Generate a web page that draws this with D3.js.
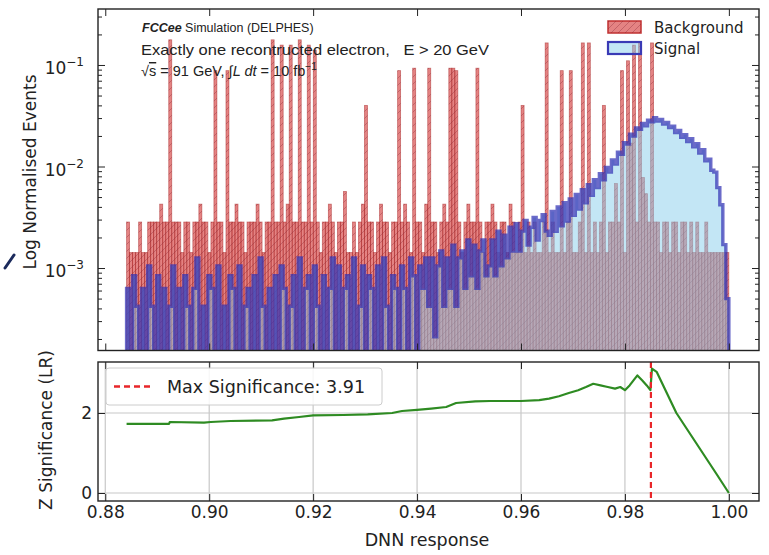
<!DOCTYPE html>
<html><head><meta charset="utf-8">
<script src="https://cdn.jsdelivr.net/npm/d3@7"></script>
<style>body{margin:0;background:#fff}svg{display:block}</style>
</head><body>
<svg id="c" width="769" height="555"></svg>
<script>
// ---------------- data ----------------
const binLo = 0.8841, binHi = 1.0, nBins = 200;
const background = [
.00284,.00142,.00142,.00142,.00284,.00142,.00142,.00284,.00284,.00284,
.00284,.00426,.00284,.00284,.177,.00284,.00284,.00284,.00142,.00284,
.00284,.00142,.00284,.00284,.00426,.00284,.00284,.00142,.00284,.088,
.00284,.00284,.00142,.088,.00284,.00284,.00426,.00284,.00284,.00142,
.00284,.00284,.00284,.00426,.00284,.00142,.00284,.00284,.177,.00284,
.00284,.157,.00284,.00426,.157,.00284,.00284,.177,.00284,.00284,
.157,.00284,.14,.00284,.00142,.00284,.00284,.00426,.00284,.00142,
.00284,.00284,.00568,.00142,.00142,.00284,.00142,.00284,.00426,.04,
.00284,.00284,.00142,.00284,.00426,.00284,.00284,.00142,.00284,.00284,
.088,.00284,.00426,.00284,.00142,.093,.00284,.00284,.00142,.00426,
.093,.00284,.00284,.00142,.00284,.00426,.00284,.093,.093,.088,
.00284,.00142,.00284,.00426,.00284,.00284,.093,.00284,.00142,.00284,
.00284,.00426,.00284,.00142,.00284,.00284,.00142,.00426,.00284,.00142,
.00284,.04,.00142,.00284,.00142,.00284,.00142,.00142,.00284,.165,
.00142,.00284,.00142,.00142,.088,.00142,.00284,.088,.00142,.00142,
.00284,.165,.00142,.165,.00142,.00284,.00142,.00284,.04,.00142,
.00284,.00284,.0068,.00284,.088,.00142,.11,.017,.157,.00284,
.165,.0078,.0054,.00284,.165,.00284,.00284,.00142,.00284,.00284,
.00142,.00284,.00284,.00142,.00284,.00284,.00142,.00284,.00142,.00284,
.00142,.00142,.00284,.00142,.00142,.00142,.00142,.00142,.00142,.00142
];
const signal = [
.00063,0,.00084,.00042,0,.00063,0,.00105,.00042,0,
.00084,0,.00063,0,.00042,.00105,0,.00063,0,.00084,
.00042,0,.00063,.00126,0,.00042,0,.00084,.00063,0,
.00105,0,.00042,0,.00084,.00063,0,.00105,0,.00042,
.00063,0,.00084,0,.00126,.00042,0,.00063,0,.00084,
0,.00105,.00063,0,.00042,.00084,0,.00126,0,.00063,
.00084,0,.00105,.00042,0,.00084,0,.00063,.00126,0,
.00105,0,.00063,.00084,0,.00126,0,.00042,.00105,0,
.00084,.00063,0,.00105,0,.00126,.00042,0,.00084,.00063,
0,.00105,.00063,0,.00126,.00084,0,.00105,.00063,.00126,
.00042,.00126,.00021,.00105,.00147,.00042,.00126,.00063,.00168,.00042,
.00126,.00147,.00063,.00189,.00084,.00168,.00063,.00147,.00189,.00084,
.00105,.00189,.00084,.00231,.00105,.0021,.00126,.00252,.00147,.00273,
.00147,.00231,.00294,.00168,.00252,.00315,.00189,.00294,.00336,.00231,
.0021,.0036,.0023,.0040,.0026,.0044,.0029,.0048,.0033,.0053,
.0038,.0059,.0044,.0066,.0052,.0074,.0062,.0085,.0074,.0098,
.0088,.0116,.0106,.0138,.0132,.0172,.0166,.0208,.0200,.0240,
.0232,.0266,.0252,.0286,.0276,.0302,.0280,.0290,.0262,.0272,
.0242,.0250,.0216,.0226,.0194,.0206,.0176,.0188,.0156,.0168,
.0136,.0146,.0114,.0118,.0092,.0088,.0062,.0042,.0017,.0005
];
const zX = [0.8841,0.8923,0.8924,0.8990,0.9003,0.9041,0.9121,0.9144,0.9173,0.9200,0.9258,0.9305,0.9352,0.9371,0.9400,0.9427,0.9456,0.9475,0.9512,0.9541,0.9600,0.9635,0.9654,0.9673,0.9692,0.9710,0.9725,0.9739,0.9753,0.9767,0.9781,0.9791,0.9800,0.9809,0.9824,0.9833,0.9842,0.9849,0.9852,0.9861,0.9899,0.9937,0.9975,1.0000];
const zY = [1.73,1.73,1.775,1.76,1.775,1.80,1.817,1.86,1.90,1.94,1.95,1.967,2.0,2.05,2.08,2.11,2.15,2.25,2.29,2.30,2.30,2.32,2.36,2.42,2.50,2.57,2.65,2.73,2.69,2.65,2.61,2.65,2.57,2.69,2.94,2.82,2.69,2.57,3.11,3.03,2.0,1.25,0.5,0.0];
const maxSigX = 0.985;
const maxSigLabel = "Max Significance: 3.91";
const xTicks = [0.88,0.90,0.92,0.94,0.96,0.98,1.00];
const xTickLabels = ["0.88","0.90","0.92","0.94","0.96","0.98","1.00"];
const logMajor = [1e-3,1e-2,1e-1];
const logMajorExp = ["\u22123","\u22122","\u22121"];
const logMinor = [2e-4,3e-4,4e-4,5e-4,6e-4,7e-4,8e-4,9e-4,2e-3,3e-3,4e-3,5e-3,6e-3,7e-3,8e-3,9e-3,2e-2,3e-2,4e-2,5e-2,6e-2,7e-2,8e-2,9e-2,2e-1,3e-1];
const zTicks = [0,2];
const legendLabels = ["Background","Signal"];

// ---------------- layout ----------------
const svg = d3.select("#c");
const L = 98, R = 759, T1 = 9, B1 = 350.5, T2 = 362, B2 = 501;
const x = d3.scaleLinear().domain([0.8786, 1.0058]).range([L, R]);
const y1 = d3.scaleLog().domain([1.54e-4, 0.356]).range([B1, T1]);
const y2 = d3.scaleLinear().domain([-0.2, 3.275]).range([B2, T2]);
const edges = d3.range(nBins + 1).map(i => binLo + i * (binHi - binLo) / nBins);
const FONT = "DejaVu Sans, sans-serif";

const defs = svg.append("defs");
defs.append("clipPath").attr("id","clipTop").append("rect").attr("x",L).attr("y",T1).attr("width",R-L).attr("height",B1-T1);
defs.append("clipPath").attr("id","clipBot").append("rect").attr("x",L).attr("y",T2).attr("width",R-L).attr("height",B2-T2);
const pat = defs.append("pattern").attr("id","hatch").attr("patternUnits","userSpaceOnUse").attr("width",7).attr("height",7);
pat.append("path").attr("d","M-1,1 l2,-2 M0,7 l7,-7 M6,8 l2,-2").attr("stroke","#7a1a2a").attr("stroke-opacity",0.35).attr("stroke-width",0.9);

// ---------------- top panel ----------------
const gTop = svg.append("g").attr("clip-path","url(#clipTop)");
const yv = v => v > 0 ? y1(v) : B1 + 10;
gTop.selectAll("rect.bg").data(background).join("rect").attr("class","bg")
  .attr("x",(d,i)=>x(edges[i])).attr("width",(d,i)=>x(edges[i+1])-x(edges[i]))
  .attr("y",d=>yv(d)).attr("height",d=>Math.max(0,B1+2-yv(d)))
  .attr("fill","#d02a2a").attr("fill-opacity",0.58)
  .attr("stroke","#a01818").attr("stroke-opacity",0.5).attr("stroke-width",0.8);
gTop.selectAll("rect.hatch").data(background).join("rect").attr("class","hatch")
  .attr("x",(d,i)=>x(edges[i])).attr("width",(d,i)=>x(edges[i+1])-x(edges[i]))
  .attr("y",d=>yv(d)).attr("height",d=>Math.max(0,B1+2-yv(d)))
  .attr("fill","url(#hatch)");

const sigPts = signal.map((v,i)=>[edges[i], v]).concat([[edges[nBins], signal[nBins-1]]]);
gTop.append("path").datum(sigPts)
  .attr("d", d3.area().curve(d3.curveStepAfter).x(d=>x(d[0])).y0(B1+10).y1(d=>yv(d[1])))
  .attr("fill","#87ceeb").attr("fill-opacity",0.5);
const outPts = [[edges[0], 0]].concat(sigPts).concat([[edges[nBins], 0]]);
gTop.append("path").datum(outPts)
  .attr("d", d3.line().curve(d3.curveStepAfter).x(d=>x(d[0])).y(d=>yv(d[1])))
  .attr("fill","none").attr("stroke","#3232b4").attr("stroke-opacity",0.72).attr("stroke-width",3.4).attr("stroke-linejoin","miter");

// top axes
function styleAxis(g){ g.select(".domain").remove(); g.selectAll("line").attr("stroke","#222").attr("stroke-width",1); g.selectAll("text").attr("font-family",FONT).attr("font-size",17).attr("fill","#222"); }
svg.append("g").attr("transform",`translate(0,${B1})`).call(d3.axisBottom(x).tickValues(xTicks).tickSize(-7).tickSizeOuter(0).tickFormat("")).call(styleAxis);
svg.append("g").attr("transform",`translate(0,${T1})`).call(d3.axisTop(x).tickValues(xTicks).tickSize(-7).tickSizeOuter(0).tickFormat("")).call(styleAxis);
svg.append("g").attr("transform",`translate(${L},0)`).call(d3.axisLeft(y1).tickValues(logMajor).tickSize(-7).tickSizeOuter(0).tickFormat("")).call(styleAxis);
svg.append("g").attr("transform",`translate(${L},0)`).call(d3.axisLeft(y1).tickValues(logMinor).tickSize(-4).tickSizeOuter(0).tickFormat("")).call(styleAxis);
svg.append("g").attr("transform",`translate(${R},0)`).call(d3.axisRight(y1).tickValues(logMajor).tickSize(-7).tickSizeOuter(0).tickFormat("")).call(styleAxis);
svg.append("g").attr("transform",`translate(${R},0)`).call(d3.axisRight(y1).tickValues(logMinor).tickSize(-4).tickSizeOuter(0).tickFormat("")).call(styleAxis);
logMajor.forEach((v,i)=>{
  const t = svg.append("text").attr("x",84).attr("y",y1(v)+9).attr("text-anchor","end")
    .attr("font-family",FONT).attr("font-size",17).attr("fill","#222");
  t.append("tspan").text("10");
  t.append("tspan").attr("font-size",12).attr("dy",-8).text(logMajorExp[i]);
});
svg.append("rect").attr("x",L).attr("y",T1).attr("width",R-L).attr("height",B1-T1).attr("fill","none").attr("stroke","#222").attr("stroke-width",1.4);

// annotations
const ann = svg.append("g").attr("font-family","Liberation Sans, Arial, sans-serif").attr("fill","#222");
const a1 = ann.append("text").attr("x",142).attr("y",32).attr("font-size",12.5);
a1.append("tspan").attr("font-weight","bold").attr("font-style","italic").text("FCCee");
a1.append("tspan").text(" Simulation (DELPHES)");
ann.append("text").attr("x",141).attr("y",55).attr("font-size",14.5).attr("textLength",348).attr("lengthAdjust","spacingAndGlyphs")
  .text("Exactly one recontructed electron,\u00a0\u00a0 E > 20 GeV");
const a3 = ann.append("text").attr("x",141).attr("y",76).attr("font-size",14.5);
a3.append("tspan").text("\u221a");
a3.append("tspan").attr("text-decoration","overline").text("s");
a3.append("tspan").text(" = 91 GeV, \u222b");
a3.append("tspan").attr("font-style","italic").text("L dt");
a3.append("tspan").text(" = 10 fb");
a3.append("tspan").attr("font-size",10).attr("dy",-6).text("\u22121");

// top legend
const lg = svg.append("g");
lg.append("rect").attr("x",608).attr("y",21).attr("width",33).attr("height",12).attr("fill","#d02a2a").attr("fill-opacity",0.58).attr("stroke","#c03030").attr("stroke-width",1.5);
lg.append("rect").attr("x",608).attr("y",21).attr("width",33).attr("height",12).attr("fill","url(#hatch)");
lg.append("rect").attr("x",608).attr("y",42).attr("width",33).attr("height",12).attr("fill","#87ceeb").attr("fill-opacity",0.5).attr("stroke","#3a3ab5").attr("stroke-width",2.2);
lg.selectAll("text").data(legendLabels).join("text").attr("x",654).attr("y",(d,i)=>33+i*21)
  .attr("font-family",FONT).attr("font-size",15).attr("fill","#222").text(d=>d);

// ---------------- bottom panel ----------------
const grid = svg.append("g").attr("stroke","#c8c8c8").attr("stroke-width",1.2);
grid.selectAll("line.v").data(xTicks).join("line").attr("x1",d=>x(d)).attr("x2",d=>x(d)).attr("y1",T2).attr("y2",B2);
grid.selectAll("line.h").data(zTicks).join("line").attr("x1",L).attr("x2",R).attr("y1",d=>y2(d)).attr("y2",d=>y2(d));

const gBot = svg.append("g").attr("clip-path","url(#clipBot)");
gBot.append("path").datum(d3.zip(zX,zY))
  .attr("d", d3.line().x(d=>x(d[0])).y(d=>y2(d[1])))
  .attr("fill","none").attr("stroke","#2e8b22").attr("stroke-width",2.2).attr("stroke-linejoin","round");
gBot.append("line").attr("x1",x(maxSigX)).attr("x2",x(maxSigX)).attr("y1",T2).attr("y2",B2)
  .attr("stroke","#e8262a").attr("stroke-width",2.2).attr("stroke-dasharray","6,4");

svg.append("g").attr("transform",`translate(0,${B2})`)
  .call(d3.axisBottom(x).tickValues(xTicks).tickSize(-7).tickSizeOuter(0).tickPadding(5).tickFormat((d,i)=>xTickLabels[i])).call(styleAxis);
svg.append("g").attr("transform",`translate(0,${T2})`).call(d3.axisTop(x).tickValues(xTicks).tickSize(-7).tickSizeOuter(0).tickFormat("")).call(styleAxis);
svg.append("g").attr("transform",`translate(${L},0)`).call(d3.axisLeft(y2).tickValues(zTicks).tickSize(-7).tickSizeOuter(0).tickPadding(6).tickFormat(d3.format("d"))).call(styleAxis);
svg.append("g").attr("transform",`translate(${R},0)`).call(d3.axisRight(y2).tickValues(zTicks).tickSize(-7).tickSizeOuter(0).tickFormat("")).call(styleAxis);
svg.append("rect").attr("x",L).attr("y",T2).attr("width",R-L).attr("height",B2-T2).attr("fill","none").attr("stroke","#222").attr("stroke-width",1.4);

// bottom legend
const lb = svg.append("g");
lb.append("rect").attr("x",106).attr("y",368).attr("width",276).attr("height",37).attr("rx",3)
  .attr("fill","#fff").attr("fill-opacity",0.85).attr("stroke","#cccccc");
lb.append("line").attr("x1",114).attr("x2",152).attr("y1",386.5).attr("y2",386.5)
  .attr("stroke","#e8262a").attr("stroke-width",2.4).attr("stroke-dasharray","6,4");
lb.append("text").attr("x",167).attr("y",392.5).attr("font-family",FONT).attr("font-size",17.5).attr("fill","#222").text(maxSigLabel);

// axis labels
svg.append("text").attr("transform","translate(36,172) rotate(-90)").attr("text-anchor","middle")
  .attr("font-family",FONT).attr("font-size",17).attr("fill","#222").text("Log Normalised Events");
svg.append("text").attr("transform","translate(52,430) rotate(-90)").attr("text-anchor","middle")
  .attr("font-family",FONT).attr("font-size",17).attr("fill","#222").text("Z Significance (LR)");
svg.append("text").attr("x",427).attr("y",546).attr("text-anchor","middle")
  .attr("font-family",FONT).attr("font-size",17.5).attr("fill","#222").text("DNN response");

// stray pen mark at left edge
svg.append("line").attr("x1",5).attr("y1",268).attr("x2",14).attr("y2",255).attr("stroke","#1b2a5c").attr("stroke-width",3).attr("stroke-linecap","round");
</script>
</body></html>
